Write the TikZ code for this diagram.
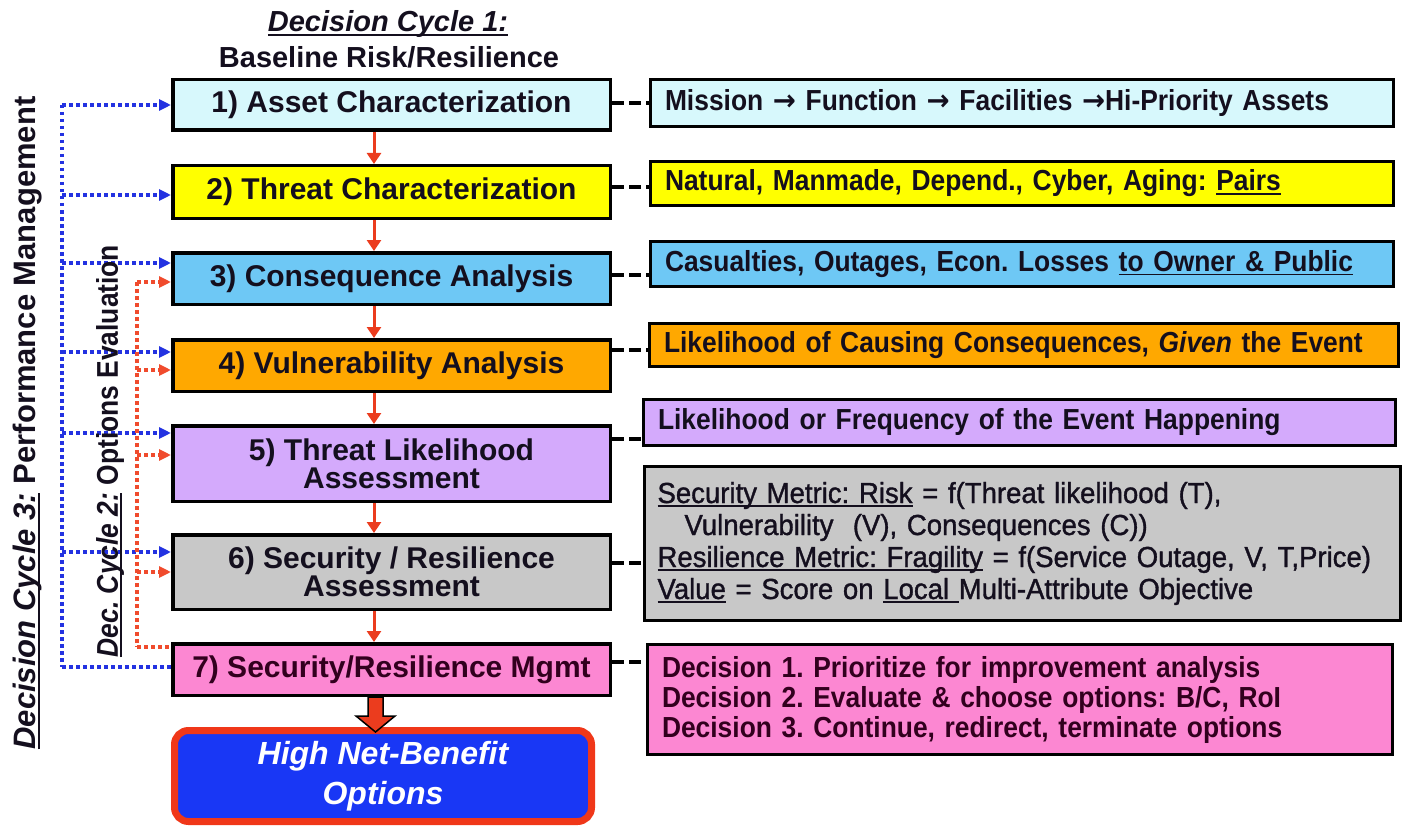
\documentclass[tikz,border=0pt]{standalone}
\usepackage{fontspec}
\setmainfont{Liberation Sans}
\newfontfamily\narrowfont{Liberation Sans}[FakeStretch=0.91]
\newfontfamily\grayfont{Liberation Sans}[FakeStretch=0.95,FakeBold=1.2]
\newfontfamily\labfont{Liberation Sans}[FakeStretch=0.88]
\newfontfamily\arrfont{DejaVu Sans}[FakeStretch=0.95]
\usetikzlibrary{arrows.meta}
\definecolor{cA}{RGB}{215,248,252}
\definecolor{cB}{RGB}{255,255,0}
\definecolor{cC}{RGB}{110,200,245}
\definecolor{cD}{RGB}{255,168,0}
\definecolor{cE}{RGB}{212,170,252}
\definecolor{cF}{RGB}{200,200,200}
\definecolor{cG}{RGB}{252,135,210}
\definecolor{txt}{RGB}{20,15,30}
\definecolor{pinktxt}{RGB}{50,0,30}
\definecolor{dotblue}{RGB}{35,50,225}
\definecolor{dotred}{RGB}{240,75,45}
\definecolor{arrred}{RGB}{235,60,30}
\definecolor{hbblue}{RGB}{25,55,245}
\definecolor{hbred}{RGB}{240,55,25}
\newcommand\ulx[1]{\leavevmode\setbox0=\hbox{#1}\rlap{\rule[-4pt]{\wd0}{1.8pt}}\box0\relax}
\newcommand\rarr{{\arrfont\bfseries →}}
\frenchspacing
\begin{document}
\begin{tikzpicture}[x=1pt,y=-1pt,
  lbox/.style={draw=black, line width=3.5pt, minimum width=437.5pt, inner sep=0pt,
    align=center, text=txt, font=\bfseries\fontsize{30}{28}\selectfont},
  rbox/.style={draw=black, line width=3pt, inner xsep=15pt, inner ysep=0pt,
    align=left, text=txt, font=\narrowfont\bfseries\fontsize{29}{32}\selectfont},
  conn/.style={draw=black, line width=3.5pt, dash pattern=on 12pt off 5pt},
  flow/.style={draw=arrred, line width=3pt, -{Triangle[length=11pt,width=14pt]}},
  bdot/.style={draw=dotblue, line width=3.5pt, dash pattern=on 3.5pt off 3.5pt},
  rdot/.style={draw=dotred, line width=3.5pt, dash pattern=on 3.5pt off 3.5pt},
  dtip/.style={-{Triangle[length=12pt,width=11pt]}},
]
\useasboundingbox (0,0) rectangle (1402,829);

% titles
\node[anchor=base, text=txt, font=\bfseries\itshape\fontsize{29}{29}\selectfont] (t1) at (388,32) {\ulx{Decision Cycle 1:}};
\node[anchor=base, text=txt, font=\bfseries\fontsize{29}{29}\selectfont] (t2) at (389,68) {Baseline Risk/Resilience};

% left column
\node[lbox, fill=cA, minimum height=50.5pt] (b1) at (391.5,105) {1) Asset Characterization};
\node[lbox, fill=cB, minimum height=52.5pt] (b2) at (391.5,192) {2) Threat Characterization};
\node[lbox, fill=cC, minimum height=51.5pt] (b3) at (391.5,278.5) {3) Consequence Analysis};
\node[lbox, fill=cD, minimum height=51.5pt] (b4) at (391.5,365.5) {4) Vulnerability Analysis};
\node[lbox, fill=cE, minimum height=75.5pt] (b5) at (391.5,463.5) {5) Threat Likelihood\\Assessment};
\node[lbox, fill=cF, minimum height=74.5pt] (b6) at (391.5,572) {6) Security / Resilience\\Assessment};
\node[lbox, fill=cG, minimum height=51.5pt, text=pinktxt] (b7) at (391.5,669.5) {7) Security/Resilience Mgmt};

% outcome box
\node[draw=hbred, line width=7pt, fill=hbblue, rounded corners=14pt, minimum width=417pt, minimum height=91pt,
  align=center, text=white, font=\bfseries\itshape\fontsize{32}{40}\selectfont] (hb) at (383,776) {High Net-Benefit\\Options};

% right column
\node[rbox, fill=cA, text width=713pt, minimum height=47pt] (r1) at (1021.5,103) {Mission \rarr{} Function \rarr{} Facilities \rarr{}Hi-Priority Assets};
\node[rbox, fill=cB, text width=713pt, minimum height=44pt] (r2) at (1021.5,183.5) {Natural, Manmade, Depend., Cyber, Aging: \ulx{Pairs}};
\node[rbox, fill=cC, text width=713pt, minimum height=45pt] (r3) at (1021.5,264) {Casualties, Outages, Econ. Losses \ulx{to Owner \& Public}};
\node[rbox, fill=cD, text width=719pt, minimum height=43pt] (r4) at (1023.5,345) {Likelihood of Causing Consequences, {\itshape Given} the Event};
\node[rbox, fill=cE, text width=722pt, minimum height=46pt] (r5) at (1019,422.5) {Likelihood or Frequency of the Event Happening};
\node[rbox, fill=cF, text width=729pt, inner xsep=13.5pt, minimum height=154pt, font=\grayfont\fontsize{29}{32}\selectfont] (r6) at (1022,543.5) {\ulx{Security Metric: Risk} = f(Threat likelihood (T),\\
\hspace*{27pt}Vulnerability\ \ (V), Consequences (C))\\
\ulx{Resilience Metric: Fragility} = f(Service Outage, V, T,Price)\\
\ulx{Value} = Score on \ulx{Local }Multi-Attribute Objective};
\node[rbox, fill=cG, text=pinktxt, text width=715pt, minimum height=110pt, font=\narrowfont\bfseries\fontsize{29}{30}\selectfont] (r7) at (1019.5,699.5) {Decision 1. Prioritize for improvement analysis\\
Decision 2. Evaluate \& choose options: B/C, RoI\\
Decision 3. Continue, redirect, terminate options};

% dashed links to descriptions
\draw[conn] (b1.east |- 0,103) -- (r1.west |- 0,103);
\draw[conn] (b2.east |- 0,187) -- (r2.west |- 0,187);
\draw[conn] (b3.east |- 0,275) -- (r3.west |- 0,275);
\draw[conn] (b4.east |- 0,350) -- (r4.west |- 0,350);
\draw[conn] (b5.east |- 0,439) -- (r5.west |- 0,439);
\draw[conn] (b6.east |- 0,563) -- (r6.west |- 0,563);
\draw[conn] (b7.east |- 0,662) -- (r7.west |- 0,662);

% main flow
\coordinate (ax) at (374,0);
\draw[flow] (b1.south -| ax) -- (b2.north -| ax);
\draw[flow] (b2.south -| ax) -- (b3.north -| ax);
\draw[flow] (b3.south -| ax) -- (b4.north -| ax);
\draw[flow] (b4.south -| ax) -- (b5.north -| ax);
\draw[flow] (b5.south -| ax) -- (b6.north -| ax);
\draw[flow] (b6.south -| ax) -- (b7.north -| ax);

% big arrow to outcome
\coordinate (bx) at (375.5,0);
\draw[fill=arrred, draw=black, line width=1.5pt, line join=miter]
  (b7.south -| bx) ++(-7.5,0) -- ++(0,19) -- ++(-12,0) -- ++(19.5,16) -- ++(19.5,-16) -- ++(-12,0) -- ++(0,-19) -- cycle;

% decision cycle 3 (blue dotted)
\coordinate (bTop) at (62,105);
\coordinate (bBot) at (62,667);
\draw[bdot] (bTop) -- (bBot);
\foreach \n/\yy in {1/105,2/195,3/263,4/352,5/433,6/552}{
  \coordinate (bj\n) at (62,\yy);
  \draw[bdot,dtip] (bj\n) -- (b\n.west |- bj\n);
}
\draw[bdot] (bBot) -- (b7.west |- bBot);

% decision cycle 2 (red dotted)
\coordinate (rTop) at (137,282);
\coordinate (rBot) at (137,647);
\draw[rdot] (rTop) -- (rBot);
\foreach \n/\yy in {3/282,4/370,5/455,6/572}{
  \coordinate (rj\n) at (137,\yy);
  \draw[rdot,dtip] (rj\n) -- (b\n.west |- rj\n);
}
\draw[rdot] (rBot) -- (b7.west |- rBot);

% side labels
\node[rotate=90, text=txt, font=\bfseries\fontsize{31}{31}\selectfont] (lab3) at (28,423) {\ulx{\itshape Decision Cycle 3:} Performance Management};
\node[rotate=90, text=txt, font=\labfont\bfseries\fontsize{30}{30}\selectfont] (lab2) at (110,451) {\ulx{\itshape Dec. Cycle 2:} Options Evaluation};
\end{tikzpicture}
\end{document}
